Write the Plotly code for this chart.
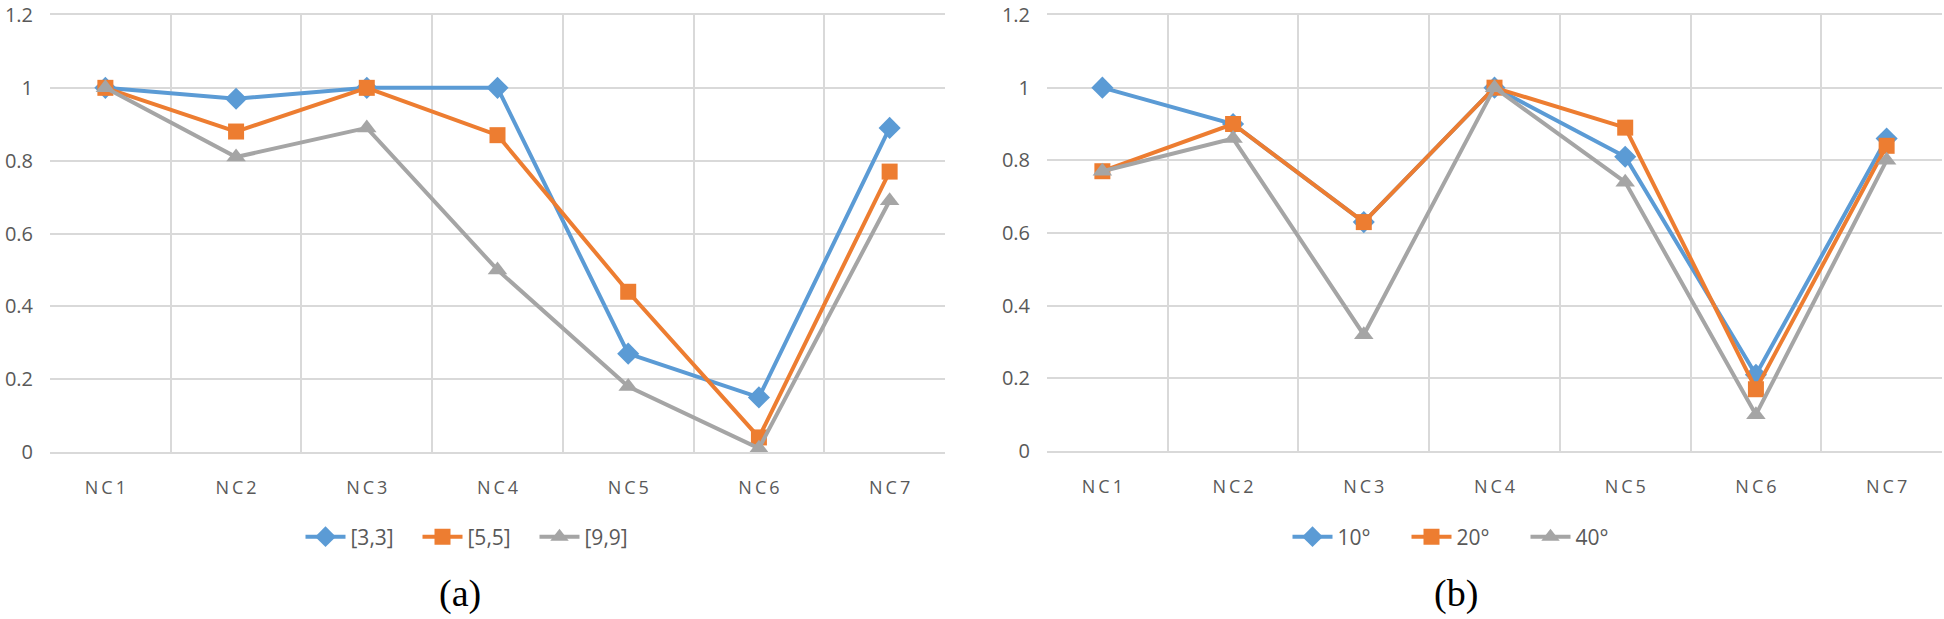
import plotly.graph_objects as go

# categories shared by both panels
categories = ["NC1", "NC2", "NC3", "NC4", "NC5", "NC6", "NC7"]
tick_text = ["N\u2009C\u20091", "N\u2009C\u20092", "N\u2009C\u20093", "N\u2009C\u20094",
             "N\u2009C\u20095", "N\u2009C\u20096", "N\u2009C\u20097"]

# panel (a): window sizes
win_names = ["[3,3]", "[5,5]", "[9,9]"]
win_33 = [1.00, 0.97, 1.00, 1.00, 0.27, 0.15, 0.89]
win_55 = [1.00, 0.88, 1.00, 0.87, 0.44, 0.04, 0.77]
win_99 = [1.00, 0.81, 0.89, 0.50, 0.18, 0.01, 0.69]

# panel (b): angles
ang_names = ["10\u00b0", "20\u00b0", "40\u00b0"]
ang_10 = [1.00, 0.90, 0.63, 1.00, 0.81, 0.21, 0.86]
ang_20 = [0.77, 0.90, 0.63, 1.00, 0.89, 0.17, 0.84]
ang_40 = [0.77, 0.86, 0.32, 1.00, 0.74, 0.10, 0.80]

y_ticks = [0, 0.2, 0.4, 0.6, 0.8, 1.0, 1.2]
y_tick_text = ["0", "0.2", "0.4", "0.6", "0.8", "1", "1.2"]

colors = ["#5B9BD5", "#ED7D31", "#A5A5A5"]
symbols = ["diamond", "square", "triangle-up"]
sizes = [17, 16, 17]

W, H = 1944, 619


def px_x(p):
    return p / W


def px_y(p):
    return 1 - p / H


fig = go.Figure()

for i, (name, vals) in enumerate(zip(win_names, [win_33, win_55, win_99])):
    fig.add_trace(go.Scatter(
        x=categories, y=vals, name=name, mode="lines+markers",
        line=dict(color=colors[i], width=4),
        marker=dict(symbol=symbols[i], size=sizes[i], color=colors[i]),
        xaxis="x", yaxis="y", legend="legend"
    ))

for i, (name, vals) in enumerate(zip(ang_names, [ang_10, ang_20, ang_40])):
    fig.add_trace(go.Scatter(
        x=categories, y=vals, name=name, mode="lines+markers",
        line=dict(color=colors[i], width=4),
        marker=dict(symbol=symbols[i], size=sizes[i], color=colors[i]),
        xaxis="x2", yaxis="y2", legend="legend2"
    ))

grid = "#D9D9D9"
tick_font = dict(family="Open Sans, Noto Sans, sans-serif", size=20, color="#595959")

xcommon = dict(
    type="category", tickson="boundaries", showgrid=True, gridcolor=grid, gridwidth=2,
    showline=True, linecolor=grid, linewidth=2, mirror=True,
    tickvals=categories, ticktext=tick_text, ticks="", tickfont=dict(tick_font, size=18),
    ticklabelstandoff=18, zeroline=False, automargin=False
)
ycommon = dict(
    range=[0, 1.2], tickvals=y_ticks, ticktext=y_tick_text, showgrid=True,
    gridcolor=grid, gridwidth=2, zeroline=False, ticks="", tickfont=tick_font,
    ticklabelstandoff=16, showline=False, automargin=False, ticklabeloverflow="allow"
)

legend_common = dict(
    orientation="h", yanchor="middle", xanchor="center", y=px_y(537),
    font=dict(family="Open Sans, Noto Sans, sans-serif", size=21, color="#595959"),
    bgcolor="rgba(0,0,0,0)", itemwidth=40, tracegroupgap=0
)

label_font = dict(family="Liberation Serif, serif", size=38, color="black")

fig.update_layout(
    width=W, height=H,
    margin=dict(l=0, r=0, t=0, b=0, autoexpand=False),
    paper_bgcolor="white", plot_bgcolor="white",
    xaxis=dict(xcommon, domain=[px_x(50), px_x(945)], anchor="y"),
    yaxis=dict(ycommon, domain=[px_y(452), px_y(15)], anchor="x"),
    xaxis2=dict(xcommon, domain=[px_x(1047), px_x(1942)], anchor="y2"),
    yaxis2=dict(ycommon, domain=[px_y(451), px_y(15)], anchor="x2"),
    legend=dict(legend_common, x=px_x(476), entrywidth=62),
    legend2=dict(legend_common, x=px_x(1466), entrywidth=64),
    showlegend=True,
    annotations=[
        dict(text="(a)", x=px_x(460), y=px_y(593), xref="paper", yref="paper",
             xanchor="center", yanchor="middle", showarrow=False, font=label_font),
        dict(text="(b)", x=px_x(1456), y=px_y(593), xref="paper", yref="paper",
             xanchor="center", yanchor="middle", showarrow=False, font=label_font),
    ]
)

# drop the default page margin so the figure sits at the window's corner
fig.write_html("out.html", config={"displayModeBar": False},
               post_script="document.body.style.margin='0';")
